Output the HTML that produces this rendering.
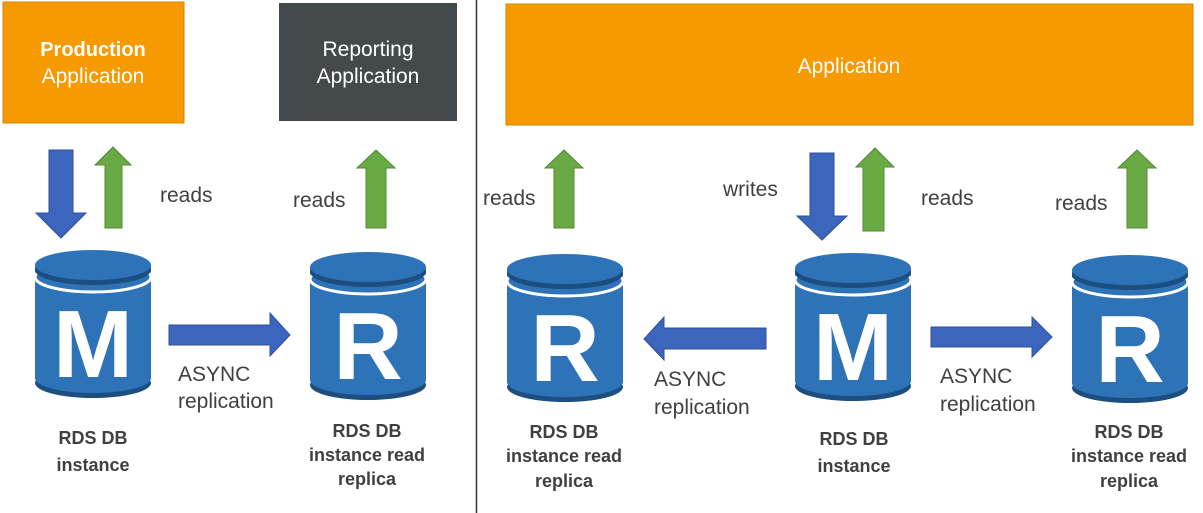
<!DOCTYPE html>
<html><head><meta charset="utf-8"><style>
html,body{margin:0;padding:0;background:#fff;width:1203px;height:513px;overflow:hidden}
svg{display:block}
text{font-family:"Liberation Sans",sans-serif}
</style></head><body>
<svg width="1203" height="513" viewBox="0 0 1203 513" xmlns="http://www.w3.org/2000/svg">
<defs>
<g id="cyl">
  <ellipse cx="58" cy="133" rx="58" ry="15" fill="#1C4F80"/>
  <ellipse cx="58" cy="128" rx="58" ry="15" fill="#2E73B8"/>
  <rect x="0" y="15" width="116" height="113" fill="#2E73B8"/>
  <ellipse cx="58" cy="27" rx="58" ry="15" fill="none" stroke="#fff" stroke-width="3"/>
  <ellipse cx="58" cy="20" rx="58" ry="15" fill="#1C4F80"/>
  <ellipse cx="58" cy="15" rx="58" ry="15" fill="#2E73B8"/>
</g>
</defs>

<line x1="476.5" y1="0" x2="476.5" y2="513" stroke="#333" stroke-width="1.5"/>

<rect x="3" y="2" width="181" height="121" fill="#F59A00" stroke="#D48600" stroke-width="1"/>
<text x="93" y="56" text-anchor="middle" font-size="20" font-weight="bold" fill="#fff">Production</text>
<text x="93" y="83" text-anchor="middle" font-size="21" fill="#fff">Application</text>

<rect x="279" y="3" width="178" height="118" fill="#424A4B"/>
<text x="368" y="56" text-anchor="middle" font-size="21" fill="#fff">Reporting</text>
<text x="368" y="83" text-anchor="middle" font-size="21" fill="#fff">Application</text>

<rect x="506" y="4" width="687" height="121" fill="#F59A00" stroke="#D48600" stroke-width="1"/>
<text x="849" y="73" text-anchor="middle" font-size="21" fill="#fff">Application</text>

<use href="#cyl" x="35" y="250"/>
<use href="#cyl" x="310" y="252"/>
<use href="#cyl" x="507" y="254"/>
<use href="#cyl" x="795" y="253"/>
<use href="#cyl" x="1072" y="255"/>
<g font-size="96" font-weight="bold" fill="#fff" text-anchor="middle">
<text x="93" y="377">M</text>
<text x="368" y="379">R</text>
<text x="565" y="381">R</text>
<text x="853" y="380">M</text>
<text x="1130" y="382">R</text>
</g>

<g fill="#6AAA45" stroke="#558A36" stroke-width="1">
<polygon points="105,228 105,165 95,165 113,147 131,165 122,165 122,228"/>
<polygon points="366,228 366,168 357,168 376,150 395,168 386,168 386,228"/>
<polygon points="554,228 554,168 545,168 564,150 583,168 574,168 574,228"/>
<polygon points="863,231 863,167 856,167 875,148 894,167 884,167 884,231"/>
<polygon points="1127,228 1127,168 1118,168 1137,150 1156,168 1147,168 1147,228"/>
</g>
<g fill="#3C65BE" stroke="#2F509A" stroke-width="1">
<polygon points="49,150 73,150 73,213 86,213 61,238 36,213 49,213"/>
<polygon points="810,153 834,153 834,216 847,216 822,240 797,216 810,216"/>
<polygon points="169,325 270,325 270,313 290,335 270,356 270,345 169,345"/>
<polygon points="766,328 664,328 664,317 644,339 664,360 664,349 766,349"/>
<polygon points="931,327 1032,327 1032,317 1052,337 1032,357 1032,347 931,347"/>
</g>

<g font-size="21" fill="#404040">
<text x="160" y="202">reads</text>
<text x="293" y="207">reads</text>
<text x="483" y="205">reads</text>
<text x="723" y="196">writes</text>
<text x="921" y="205">reads</text>
<text x="1055" y="210">reads</text>
<text x="178" y="381">ASYNC</text>
<text x="178" y="408">replication</text>
<text x="654" y="386">ASYNC</text>
<text x="654" y="414">replication</text>
<text x="940" y="383">ASYNC</text>
<text x="940" y="411">replication</text>
</g>
<g font-size="18" font-weight="bold" fill="#404040" text-anchor="middle">
<text x="93" y="444">RDS DB</text>
<text x="93" y="471">instance</text>
<text x="367" y="437">RDS DB</text>
<text x="367" y="461">instance read</text>
<text x="367" y="485">replica</text>
<text x="564" y="438">RDS DB</text>
<text x="564" y="462">instance read</text>
<text x="564" y="487">replica</text>
<text x="854" y="445">RDS DB</text>
<text x="854" y="472">instance</text>
<text x="1129" y="438">RDS DB</text>
<text x="1129" y="462">instance read</text>
<text x="1129" y="487">replica</text>
</g>
</svg>
</body></html>
